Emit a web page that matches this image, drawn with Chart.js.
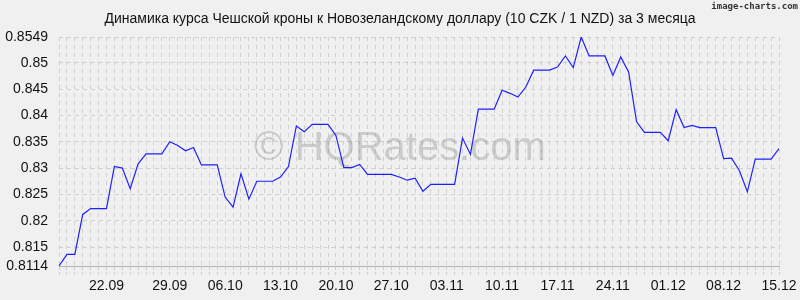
<!DOCTYPE html>
<html>
<head>
<meta charset="utf-8">
<script src="https://cdn.jsdelivr.net/npm/chart.js@4.4.1/dist/chart.umd.min.js"></script>
<style>
    html, body { margin: 0; padding: 0; background: #f0f0f0; }
    #wrap { width: 800px; height: 300px; }
</style>
</head>
<body>
<div id="wrap"><canvas id="rateChart" width="800" height="300"></canvas></div>
<script>
// курс 10 CZK / 1 NZD, одна точка в день
const rates = [
    0.8114, 0.8136, 0.8136, 0.8212, 0.8223, 0.8223, 0.8223, 0.8303, 0.8300, 0.8261,
    0.8308, 0.8327, 0.8327, 0.8327, 0.8350, 0.8343, 0.8333, 0.8339, 0.8306, 0.8306,
    0.8306, 0.8245, 0.8226, 0.8289, 0.8241, 0.8275, 0.8275, 0.8275, 0.8283, 0.8303,
    0.8380, 0.8369, 0.8383, 0.8383, 0.8383, 0.8362, 0.8301, 0.8301, 0.8307, 0.8288,
    0.8288, 0.8288, 0.8288, 0.8283, 0.8277, 0.8281, 0.8256, 0.8269, 0.8269, 0.8269,
    0.8269, 0.8357, 0.8326, 0.8412, 0.8412, 0.8412, 0.8448, 0.8442, 0.8435, 0.8454,
    0.8486, 0.8486, 0.8486, 0.8492, 0.8513, 0.8491, 0.8549, 0.8513, 0.8513, 0.8513,
    0.8476, 0.8511, 0.8482, 0.8388, 0.8368, 0.8368, 0.8368, 0.8352, 0.8411, 0.8377,
    0.8381, 0.8377, 0.8377, 0.8377, 0.8318, 0.8319, 0.8295, 0.8255, 0.8317, 0.8317,
    0.8317, 0.8337
];

// подписи оси X и номера точек, под которыми они стоят
const dateLabels = ['22.09', '29.09', '06.10', '13.10', '20.10', '27.10', '03.11',
    '10.11', '17.11', '24.11', '01.12', '08.12', '15.12'];
const dateIndex = [6, 14, 21, 28, 35, 42, 49, 56, 63, 70, 77, 84, 91];

const yTicks = [0.8114, 0.815, 0.82, 0.825, 0.83, 0.835, 0.84, 0.845, 0.85, 0.8549];
const yMin = 0.8114;
const yMax = 0.8549;

const title = 'Динамика курса Чешской кроны к Новозеландскому доллару (10 CZK / 1 NZD) за 3 месяца';

const labels = rates.map((_, i) => {
    const k = dateIndex.indexOf(i);
    return k >= 0 ? dateLabels[k] : '';
});

const FONT = '"Liberation Sans", Arial, sans-serif';

const decorPlugin = {
    id: 'decor',
    beforeDatasetsDraw(chart) {
        const { ctx } = chart;
        ctx.save();
        ctx.fillStyle = 'rgba(120,120,120,0.3)';
        ctx.font = '40px ' + FONT;
        ctx.textAlign = 'center';
        ctx.textBaseline = 'alphabetic';
        ctx.fillText('© HQRates.com', 400, 160);
        ctx.restore();
    },
    afterDraw(chart) {
        const { ctx } = chart;
        ctx.save();
        ctx.fillStyle = '#111';
        ctx.font = '14px ' + FONT;
        ctx.textAlign = 'center';
        ctx.textBaseline = 'middle';
        ctx.fillText(title, 400, 19);
        ctx.fillStyle = '#333';
        ctx.font = 'bold 9px "DejaVu Sans Mono", monospace';
        ctx.textAlign = 'right';
        ctx.fillText('image-charts.com', 798, 7);
        ctx.restore();
    }
};

new Chart(document.getElementById('rateChart'), {
    type: 'line',
    data: {
        labels: labels,
        datasets: [{
            data: rates,
            borderColor: '#1f1fff',
            borderWidth: 1.2,
            pointRadius: 0,
            tension: 0,
            fill: false
        }]
    },
    options: {
        responsive: false,
        animation: false,
        devicePixelRatio: 1,
        layout: {
            padding: { top: 37, right: 21, left: 0, bottom: 0 }
        },
        plugins: {
            legend: { display: false },
            title: { display: false },
            tooltip: { enabled: false }
        },
        scales: {
            x: {
                grid: {
                    color: '#cfcfcf',
                    lineWidth: 1,
                    tickLength: 9,
                    tickColor: '#cfcfcf',
                    tickBorderDash: [3, 2]
                },
                border: { display: true, color: '#b4b4b4', width: 1, dash: [4, 4] },
                ticks: {
                    autoSkip: false,
                    maxRotation: 0,
                    minRotation: 0,
                    padding: 3,
                    color: '#111',
                    font: { family: FONT, size: 14 }
                },
                afterFit(scale) { scale.height = 34; }
            },
            y: {
                min: yMin,
                max: yMax,
                grid: {
                    color: '#cfcfcf',
                    lineWidth: 1,
                    drawTicks: false
                },
                border: { display: false, dash: [4, 4] },
                afterBuildTicks(scale) {
                    scale.ticks = yTicks.map(v => ({ value: v }));
                },
                ticks: {
                    padding: 11,
                    color: '#111',
                    font: { family: FONT, size: 14 },
                    callback: (v) => String(Number(v.toFixed(4)))
                },
                afterFit(scale) { scale.width = 59; }
            }
        }
    },
    plugins: [decorPlugin]
});
</script>
</body>
</html>
